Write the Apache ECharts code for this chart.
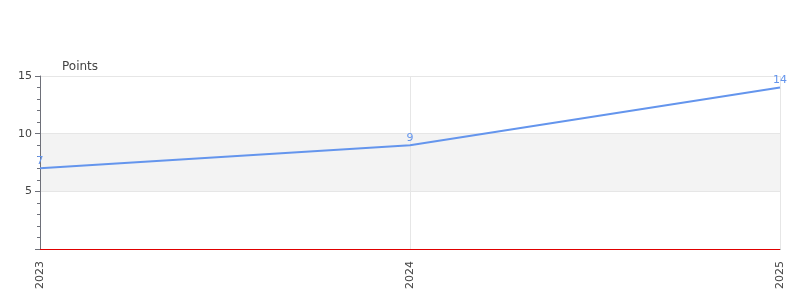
<!DOCTYPE html>
<html>
<head>
<meta charset="utf-8">
<script src="https://cdn.jsdelivr.net/npm/echarts@6/dist/echarts.min.js"></script>
<style>html,body{margin:0;padding:0;background:#fff}#c{width:800px;height:300px}</style>
</head>
<body>
<div id="c"></div>
<script>
const categories = ['2023', '2024', '2025'];
const points = [7, 9, 14];
const yTicks = [0, 5, 10, 15];

const chart = echarts.init(document.getElementById('c'), null, {renderer: 'canvas'});
chart.setOption({
  animation: false,
  grid: {left: 40, right: 20, top: 76, bottom: 51, containLabel: false},
  xAxis: {
    type: 'category',
    data: categories,
    boundaryGap: false,
    offset: 1,
    axisLine: {show: true, lineStyle: {color: '#555', width: 1}},
    axisTick: {show: false},
    axisLabel: {rotate: 90, color: '#444', fontFamily: 'DejaVu Sans', fontSize: 11, margin: 11},
    splitLine: {show: true, lineStyle: {color: '#e6e6e6'}}
  },
  yAxis: {
    type: 'value',
    min: yTicks[0],
    max: yTicks[yTicks.length - 1],
    interval: 5,
    name: 'Points',
    nameLocation: 'end',
    nameGap: 3,
    nameTextStyle: {color: '#444', fontFamily: 'DejaVu Sans', fontSize: 12, align: 'left', padding: [0, 0, 0, 22]},
    axisLine: {show: true, lineStyle: {color: '#6E7079'}},
    axisTick: {show: true, length: 5, lineStyle: {color: '#6E7079'}},
    minorTick: {show: true, splitNumber: 5, length: 3, lineStyle: {color: '#6E7079'}},
    axisLabel: {color: '#444', fontFamily: 'DejaVu Sans', fontSize: 11, showMinLabel: false},
    splitLine: {show: true, lineStyle: {color: '#e6e6e6'}},
    splitArea: {show: true, areaStyle: {color: ['rgba(255,255,255,0)', '#f3f3f3']}}
  },
  series: [{
    type: 'line',
    data: points,
    showSymbol: true,
    symbol: 'circle',
    symbolSize: 0,
    lineStyle: {color: '#6495ED', width: 2},
    itemStyle: {color: 'rgba(100,149,237,0)', borderWidth: 0},
    label: {show: true, position: 'top', distance: 2, color: '#6495ED', fontFamily: 'DejaVu Sans', fontSize: 11},
    markLine: {
      silent: true,
      symbol: 'none',
      label: {show: false},
      lineStyle: {color: '#e00000', type: 'solid', width: 1},
      data: [{yAxis: 0}]
    }
  }]
});
</script>
</body>
</html>
